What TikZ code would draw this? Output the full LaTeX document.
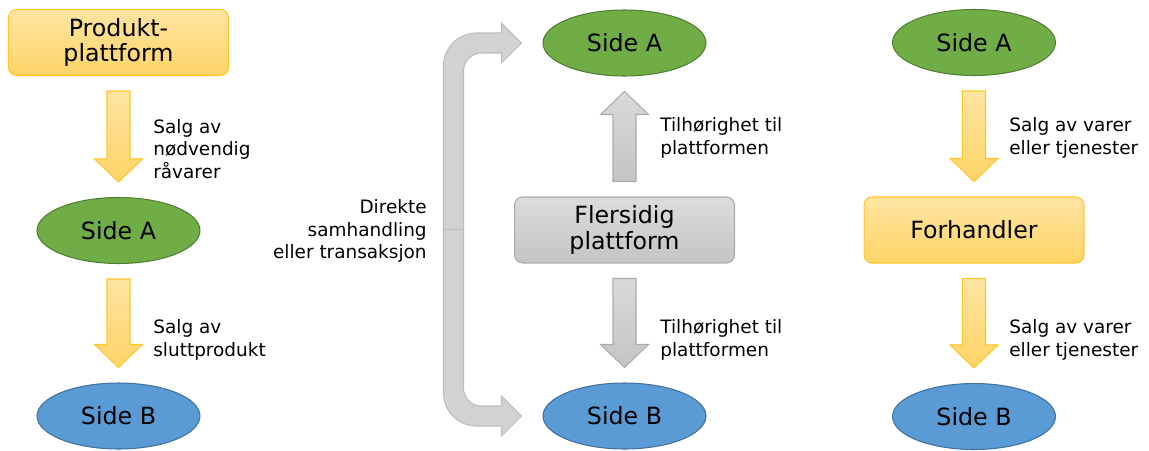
\documentclass[tikz,border=0pt]{standalone}
\usepackage{fontspec}
\setmainfont{DejaVu Sans}
\usetikzlibrary{shapes.geometric, positioning}
\usetikzlibrary{calc}

\definecolor{goldtop}{HTML}{FFE5A3}
\definecolor{goldbot}{HTML}{FFD467}
\definecolor{goldline}{HTML}{FFC629}
\definecolor{greytop}{HTML}{DCDCDC}
\definecolor{greybot}{HTML}{C4C4C4}
\definecolor{greyline}{HTML}{ABABAB}
\definecolor{greenfill}{HTML}{70AD47}
\definecolor{greenline}{HTML}{507E32}
\definecolor{bluefill}{HTML}{5B9BD5}
\definecolor{blueline}{HTML}{41719C}
\definecolor{bracketfill}{HTML}{D2D2D2}
\definecolor{bracketline}{HTML}{BDBDBD}

\begin{document}
\begin{tikzpicture}[x=0.02cm, y=-0.02cm,
		side/.style={ellipse, line width=0.6pt, minimum width=3.26cm, minimum height=1.32cm, inner sep=0pt, font=\fontsize{13.5}{14.6}\selectfont},
		sidea/.style={side, fill=greenfill, draw=greenline},
		sideb/.style={side, fill=bluefill, draw=blueline},
		platform/.style={rectangle, rounded corners=0.16cm, line width=0.6pt, minimum width=4.4cm, minimum height=1.32cm, align=center, inner sep=0pt, font=\fontsize{13.5}{14.6}\selectfont},
		goldbox/.style={platform, draw=goldline, top color=goldtop, bottom color=goldbot},
		greybox/.style={platform, draw=greyline, top color=greytop, bottom color=greybot},
		goldarrow/.style={draw=goldline, line width=0.6pt, top color=goldtop, bottom color=goldbot},
		greyarrow/.style={draw=greyline, line width=0.6pt, top color=greytop!90!greybot, bottom color=greybot},
		note/.style={align=left, anchor=west, inner sep=0pt, font=\fontsize{10.5}{12.8}\selectfont},
	]
	
	% canvas (pixel units, y pointing down)
	\useasboundingbox (0,0) rectangle (1149,450);
	
	% block arrow from anchor #1 to anchor #2, direction #3 (1 down, -1 up), style #4
	\newcommand{\flowarrow}[4]{%
		\path[#4] ($(#1)+(-11.5,{15*#3})$) -- ($(#1)+(11.5,{15*#3})$)
		-- ($(#2)+(11.5,{-38*#3})$) -- ($(#2)+(24,{-38*#3})$) -- ($(#2)+(0,{-15*#3})$)
		-- ($(#2)+(-24,{-38*#3})$) -- ($(#2)+(-11.5,{-38*#3})$) -- cycle;
	}
	
	% left: product platform
	\node[goldbox] (prod) at (118.5,42.5) {Produkt-\\plattform};
	\node[sidea] (sa1) at (118.5,230.5) {Side A};
	\node[sideb] (sb1) at (118.5,416) {Side B};
	\flowarrow{prod.south}{sa1.north}{1}{goldarrow}
	\flowarrow{sa1.south}{sb1.north}{1}{goldarrow}
	\node[note] (salg1) at (153,149) {Salg av\\nødvendig\\råvarer};
	\node[note] (salg2) at (153,340) {Salg av\\sluttprodukt};
	
	% middle: multi-sided platform
	\node[sidea] (sa2) at (624.5,43) {Side A};
	\node[greybox] (flers) at (624.5,230) {Flersidig\\plattform};
	\node[sideb] (sb2) at (624.5,416) {Side B};
	\flowarrow{flers.north}{sa2.south}{-1}{greyarrow}
	\flowarrow{flers.south}{sb2.north}{1}{greyarrow}
	\node[note] (tilh1) at (660,138) {Tilhørighet til\\plattformen};
	\node[note] (tilh2) at (660,340) {Tilhørighet til\\plattformen};
	
	% bent arrow for the direct link between the two sides
	\coordinate (ta) at ($(sa2.west)+(-21,0)$);
	\coordinate (tb) at ($(sb2.west)+(-21,0)$);
	\path[fill=bracketfill, draw=bracketline, line width=0.6pt]
	(ta) -- ++(-20,20) -- ++(0,-10) -- ++(-20,0)
	arc[start angle=270, end angle=180, radius=18]
	-- ($(tb)+(-58,-28)$)
	arc[start angle=180, end angle=90, radius=18]
	-- ($(tb)+(-20,-10)$) -- ++(0,-10) -- (tb) -- ++(-20,20) -- ++(0,-10)
	-- ($(tb)+(-45,10)$)
	arc[start angle=90, end angle=180, radius=33]
	-- ($(ta)+(-78,23)$)
	arc[start angle=180, end angle=270, radius=33]
	-- ($(ta)+(-20,-10)$) -- ++(0,-10) -- cycle;
	\coordinate (seam) at ($(ta)!0.5!(tb)$);
	\draw[bracketline, line width=0.6pt] ($(seam)+(-78,0)$) -- ($(seam)+(-58,0)$);
	\node[note, align=right, anchor=east] (direkte) at (427,231) {Direkte\\samhandling\\eller transaksjon};
	
	% right: reseller
	\node[sidea] (sa3) at (974,42.5) {Side A};
	\node[goldbox] (dealer) at (974,230) {Forhandler};
	\node[sideb] (sb3) at (974,416.5) {Side B};
	\flowarrow{sa3.south}{dealer.north}{1}{goldarrow}
	\flowarrow{dealer.south}{sb3.north}{1}{goldarrow}
	\node[note] (vare1) at (1009,138) {Salg av varer\\eller tjenester};
	\node[note] (vare2) at (1009,340) {Salg av varer\\eller tjenester};
	
\end{tikzpicture}
\end{document}
